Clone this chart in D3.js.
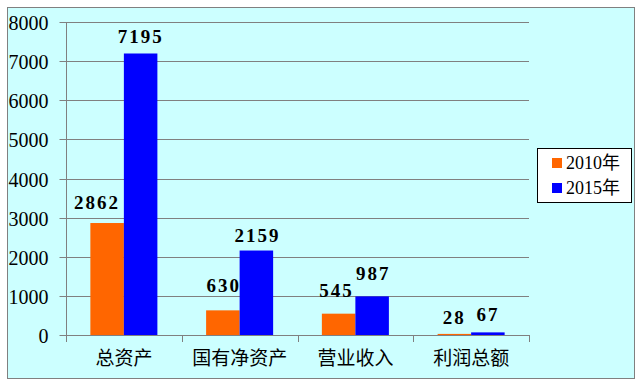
<!DOCTYPE html>
<html><head><meta charset="utf-8">
<script src="https://cdn.jsdelivr.net/npm/d3@7"></script>
<style>body{margin:0;background:#fff}svg{display:block}</style>
</head><body>
<svg id="c" width="643" height="387"></svg>
<script>
const categories = ["总资产", "国有净资产", "营业收入", "利润总额"];
const seriesNames = ["2010年", "2015年"];
const values2010 = [2862, 630, 545, 28];
const values2015 = [7195, 2159, 987, 67];
const yTicks = [0, 1000, 2000, 3000, 4000, 5000, 6000, 7000, 8000];
const colors = ["#FF6600", "#0000FF"];

const series = [values2010, values2015];
const svg = d3.select("#c");
const serif = "'Liberation Serif','Noto Sans CJK SC',serif";
const cjk = "'Noto Sans CJK SC','Liberation Serif',serif";

// chart background
svg.append("rect").attr("x", 7.5).attr("y", 7.5).attr("width", 627).attr("height", 371)
  .attr("fill", "#CCFFFF").attr("stroke", "#808080").attr("stroke-width", 1);

const L = 66, R = 529, T = 22, B = 335;
const x = d3.scaleBand().domain(categories).range([L, R]).paddingInner(0).paddingOuter(0);
const y = d3.scaleLinear().domain([0, 8000]).range([B, T]);
const xs = d3.scaleBand().domain(d3.range(series.length)).range([0, x.bandwidth()]).paddingInner(0).paddingOuter(0.727);

// gridlines
svg.append("g").selectAll("line").data(yTicks.filter(d => d > 0)).join("line")
  .attr("x1", L).attr("x2", R).attr("y1", d => Math.round(y(d)) + 0.5).attr("y2", d => Math.round(y(d)) + 0.5)
  .attr("stroke", "#808080").attr("stroke-width", 1);

// bars
const groups = svg.append("g").selectAll("g").data(series).join("g").attr("fill", (d, i) => colors[i]);
groups.each(function (vals, si) {
  d3.select(this).selectAll("rect").data(vals).join("rect")
    .attr("x", (d, ci) => x(categories[ci]) + xs(si))
    .attr("width", xs.bandwidth())
    .attr("y", d => y(d))
    .attr("height", d => B - y(d));
});

// y axis
const yAxis = d3.axisLeft(y).tickValues(yTicks).tickSize(7).tickPadding(11).tickFormat(d3.format("d"));
const ya = svg.append("g").attr("transform", `translate(${L + 0.5},0)`).call(yAxis)
  .attr("font-family", serif).attr("font-size", 20);
ya.select(".domain").attr("stroke", "#808080").attr("d", `M0,${T}V${B}`);
ya.selectAll(".tick line").attr("stroke", "#808080");
ya.selectAll(".tick").attr("transform", d => `translate(0,${Math.round(y(d)) + 0.5})`);
ya.selectAll(".tick text").style("font-family", serif).style("font-size", "20px").attr("fill", "#000").attr("dy", "0.35em");

// x axis
const xa = svg.append("g").attr("transform", `translate(0,${B + 0.5})`)
  .call(d3.axisBottom(x).tickSize(0).tickPadding(16));
xa.select(".domain").attr("stroke", "#808080").attr("d", `M${L},0H${R}`);
xa.selectAll(".tick text").style("font-family", cjk).style("font-size", "19px").attr("fill", "#000");
svg.append("g").selectAll("line").data(d3.range(categories.length + 1)).join("line")
  .attr("x1", i => Math.round(L + i * x.step()) + 0.5).attr("x2", i => Math.round(L + i * x.step()) + 0.5)
  .attr("y1", B).attr("y2", B + 7).attr("stroke", "#808080");

// data labels (offset relative to bar top / centre)
const labelDx = [[-10, 1, -2, 0], [0, 1, 1, 0]];
const labelDy = [[-14, -18, -17, -10], [-10, -9, -16, -11]];
series.forEach((vals, si) => {
  svg.append("g").selectAll("text").data(vals).join("text")
    .attr("x", (d, ci) => x(categories[ci]) + xs(si) + xs.bandwidth() / 2 + labelDx[si][ci])
    .attr("y", (d, ci) => y(d) + labelDy[si][ci])
    .attr("text-anchor", "middle").style("font-family", serif).attr("font-weight", "bold")
    .style("font-size", "19px").attr("letter-spacing", 2).attr("fill", "#000")
    .text(d => d);
});

// legend
const lg = svg.append("g").attr("transform", "translate(537,148)");
lg.append("rect").attr("x", 0.5).attr("y", 0.5).attr("width", 94).attr("height", 54)
  .attr("fill", "#fff").attr("stroke", "#000");
seriesNames.forEach((n, i) => {
  lg.append("rect").attr("x", 15).attr("y", 10 + i * 25).attr("width", 10).attr("height", 10).attr("fill", colors[i]);
  lg.append("text").attr("x", 29).attr("y", 15 + i * 25).attr("dy", "0.35em")
    .style("font-family", serif).style("font-size", "18px").attr("fill", "#000").text(n);
});
</script>
</body></html>
